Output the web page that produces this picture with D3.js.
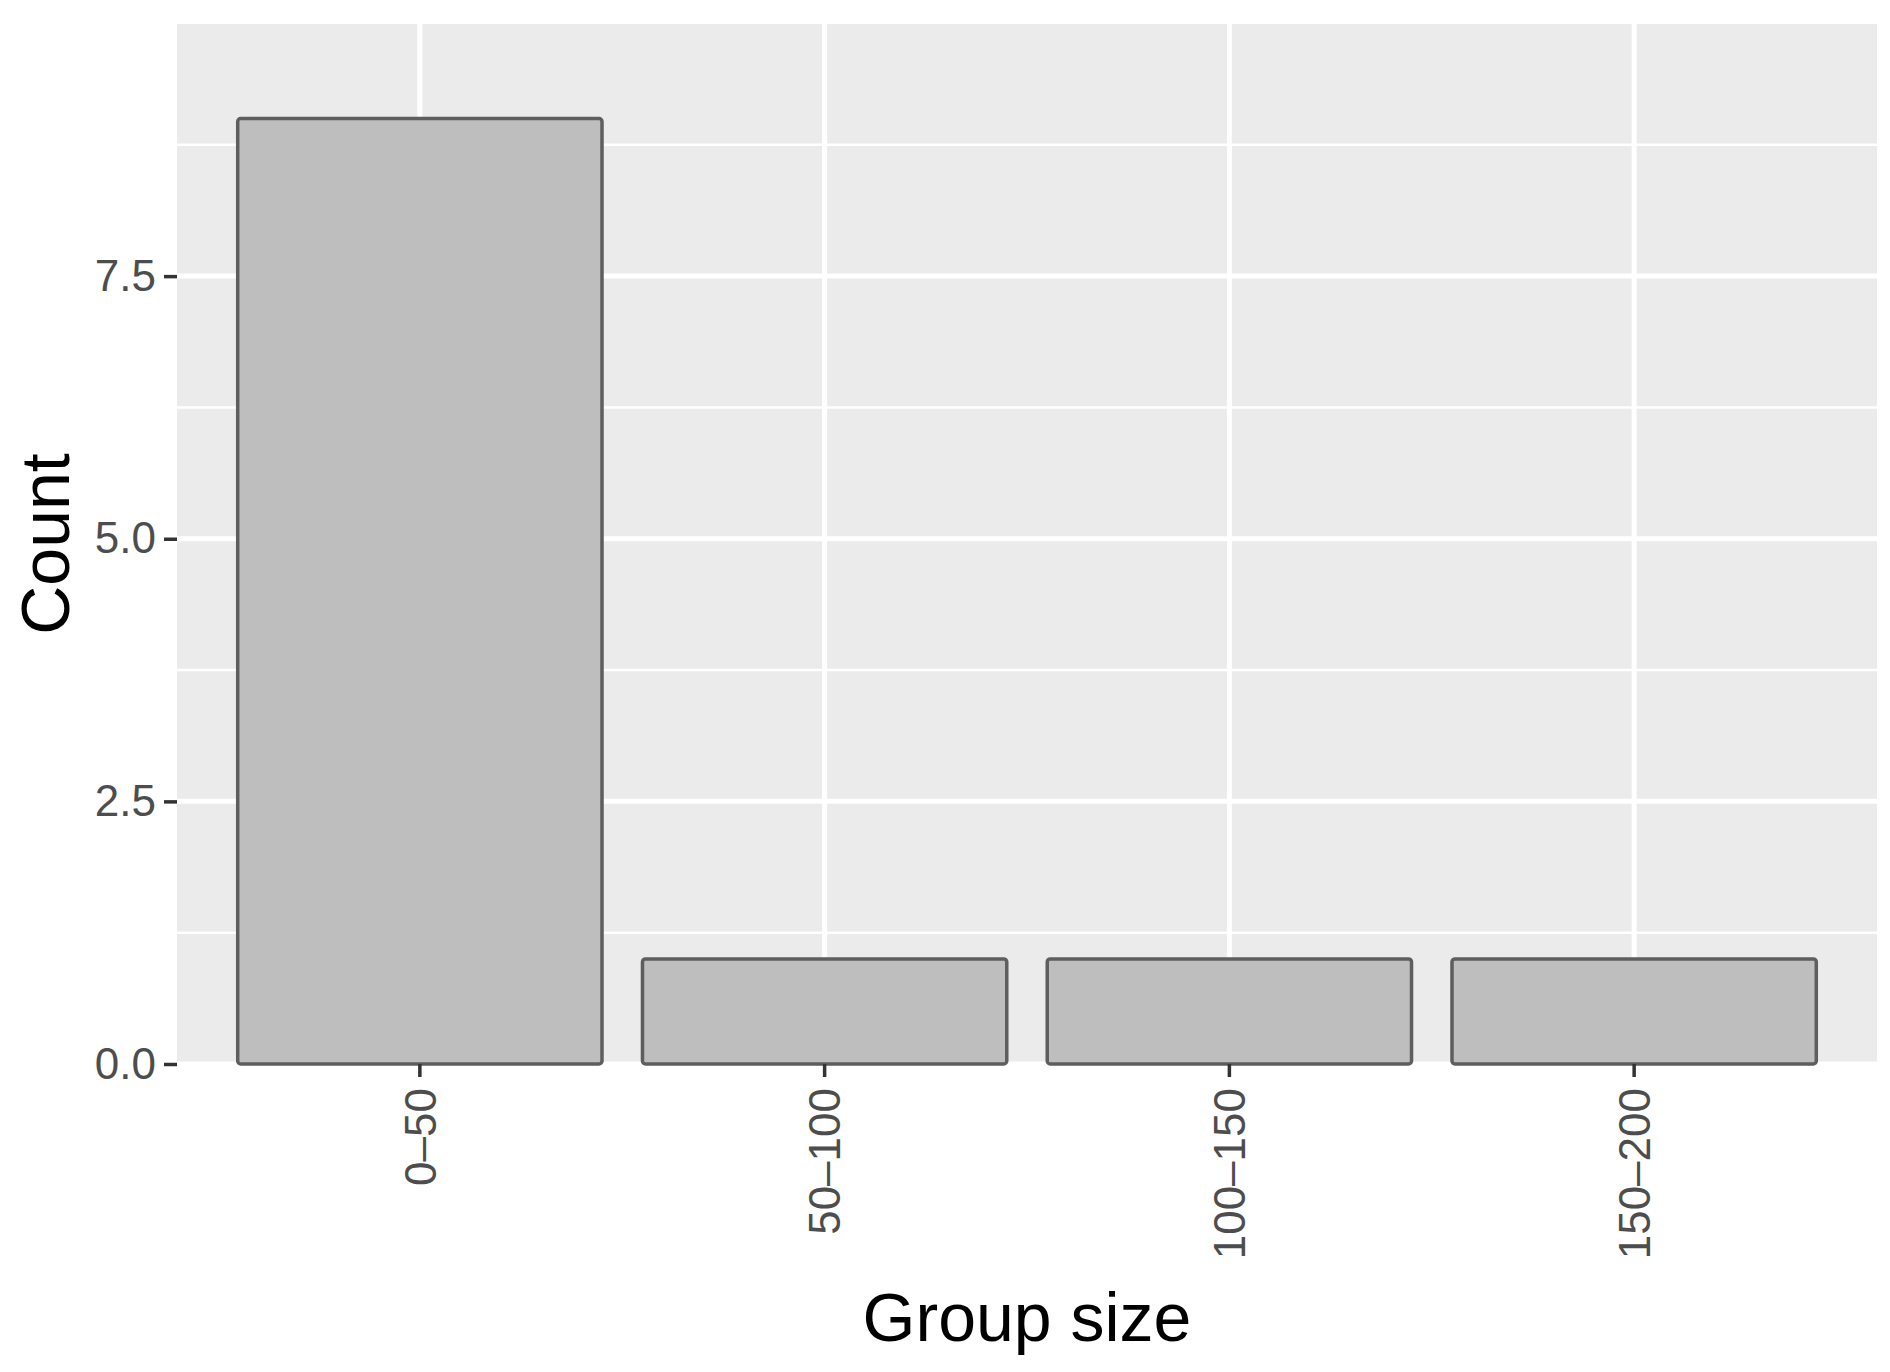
<!DOCTYPE html>
<html>
<head>
<meta charset="utf-8">
<script src="https://cdn.jsdelivr.net/npm/d3@7"></script>
<style>
  body { margin: 0; background: #fff; }
  text { font-family: "Liberation Sans", Arial, sans-serif; }
</style>
</head>
<body>
<div class="container"></div>
<script>
// group size bins and how many fall in each
const groups = ['0\u201350', '50\u2013100', '100\u2013150', '150\u2013200'];
const counts = [9, 1, 1, 1];
const yTicks = [0, 2.5, 5, 7.5];
const yMinor = [1.25, 3.75, 6.25, 8.75];

const width = 1890;
const height = 1372;
const margin = { top: 24, right: 13, bottom: 308, left: 177 };
const innerW = width - margin.left - margin.right;
const innerH = height - margin.top - margin.bottom;

const svg = d3.select('.container')
    .append('svg')
    .attr('width', width)
    .attr('height', height);

const g = svg.append('g')
    .attr('transform', `translate(${margin.left},${margin.top})`);

const x = d3.scaleBand()
    .domain(groups)
    .range([0, innerW])
    .paddingInner(0.1)
    .paddingOuter(0.15);

const y = d3.scaleLinear()
    .domain([0, d3.max(counts) * 1.1])
    .range([innerH, 0]);

// panel
g.append('rect')
    .attr('width', innerW)
    .attr('height', innerH)
    .attr('fill', '#ebebeb');

// minor grid
g.selectAll('.minor')
    .data(yMinor)
    .enter()
    .append('line')
    .attr('x1', 0)
    .attr('x2', innerW)
    .attr('y1', d => y(d))
    .attr('y2', d => y(d))
    .attr('stroke', '#fff')
    .attr('stroke-width', 2.5);

// major grid
g.selectAll('.hmajor')
    .data(yTicks)
    .enter()
    .append('line')
    .attr('x1', 0)
    .attr('x2', innerW)
    .attr('y1', d => y(d))
    .attr('y2', d => y(d))
    .attr('stroke', '#fff')
    .attr('stroke-width', 5);

g.selectAll('.vmajor')
    .data(groups)
    .enter()
    .append('line')
    .attr('x1', d => x(d) + x.bandwidth() / 2)
    .attr('x2', d => x(d) + x.bandwidth() / 2)
    .attr('y1', 0)
    .attr('y2', innerH)
    .attr('stroke', '#fff')
    .attr('stroke-width', 5);

// bars
g.selectAll('.bar')
    .data(groups)
    .enter()
    .append('rect')
    .attr('class', 'bar')
    .attr('x', d => x(d))
    .attr('width', x.bandwidth())
    .attr('y', (d, i) => y(counts[i]))
    .attr('height', (d, i) => innerH - y(counts[i]))
    .attr('rx', 3)
    .attr('fill', '#bebebe')
    .attr('stroke', '#5e5e5e')
    .attr('stroke-width', 3.5);

// y axis
const yAxis = d3.axisLeft(y)
    .tickValues(yTicks)
    .tickSize(13)
    .tickPadding(8)
    .tickFormat(d3.format('.1f'));

const ya = g.append('g').call(yAxis);
ya.select('.domain').remove();
ya.selectAll('line').attr('stroke', '#333').attr('stroke-width', 3.5);
ya.selectAll('text')
    .attr('fill', '#4d4d4d')
    .style('font-size', '44px');

// x axis
const xAxis = d3.axisBottom(x)
    .tickSize(13);

const xa = g.append('g')
    .attr('transform', `translate(0,${innerH})`)
    .call(xAxis);
xa.select('.domain').remove();
xa.selectAll('line').attr('stroke', '#333').attr('stroke-width', 3.5);
xa.selectAll('text')
    .attr('fill', '#4d4d4d')
    .style('font-size', '44px')
    .attr('text-anchor', 'end')
    .attr('transform', 'rotate(-90)')
    .attr('x', -24)
    .attr('y', 0)
    .attr('dy', '0.36em');

// axis titles
svg.append('text')
    .attr('x', margin.left + innerW / 2)
    .attr('y', 1341)
    .attr('text-anchor', 'middle')
    .style('font-size', '68px')
    .attr('fill', '#000')
    .text('Group size');

svg.append('text')
    .attr('transform', `translate(69,${margin.top + innerH / 2}) rotate(-90)`)
    .attr('text-anchor', 'middle')
    .style('font-size', '68px')
    .attr('fill', '#000')
    .text('Count');
</script>
</body>
</html>
